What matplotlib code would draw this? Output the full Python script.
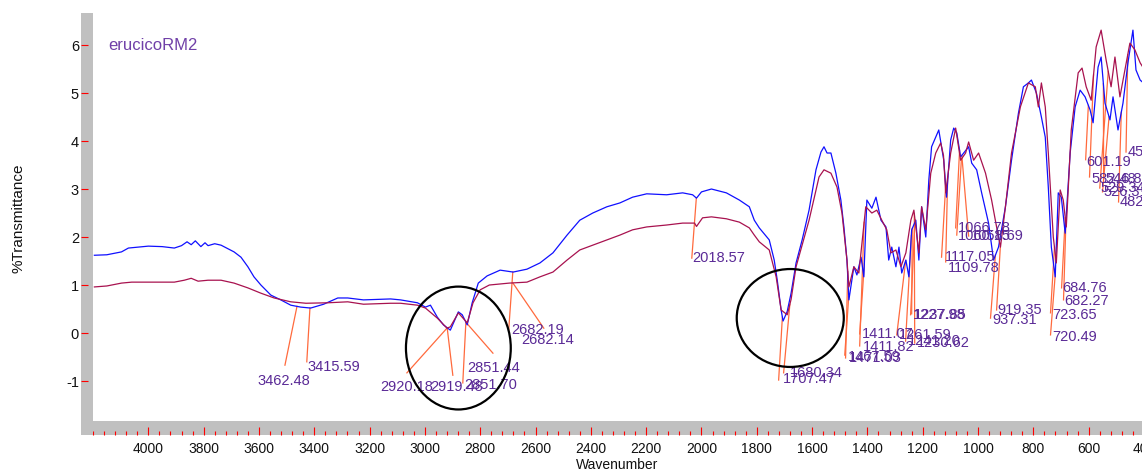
import numpy as np
import matplotlib
matplotlib.use("Agg")
import matplotlib.pyplot as plt
from matplotlib.patches import Ellipse, Rectangle
from matplotlib.ticker import FixedLocator, MultipleLocator

plt.rcParams['font.family'] = ['Liberation Sans', 'DejaVu Sans']
plt.rcParams['axes.unicode_minus'] = False

# ---------------- data ----------------
blue_wn = [4195, 4150, 4097, 4072, 4000, 3950, 3906, 3880, 3860, 3845, 3830, 3810, 3795, 3784,
           3760, 3737, 3690, 3665, 3640, 3618, 3593, 3557, 3521, 3485, 3449, 3413, 3366, 3315,
           3279, 3222, 3124, 3088, 3027, 2998, 2980, 2955, 2933, 2908, 2879, 2865, 2847, 2829,
           2807, 2775, 2728, 2681, 2631, 2584, 2537, 2486, 2440, 2393, 2342, 2295, 2249, 2198,
           2126, 2068, 2032, 2018, 2000, 1964, 1910, 1863, 1827, 1809, 1791, 1755, 1737, 1726,
           1712, 1705, 1690, 1676, 1658, 1636, 1611, 1586, 1568, 1557, 1546, 1532, 1514, 1496,
           1485, 1474, 1467, 1449, 1438, 1423, 1413, 1402, 1384, 1369, 1351, 1333, 1323, 1312,
           1297, 1286, 1276, 1261, 1250, 1240, 1225, 1214, 1204, 1189, 1178, 1168, 1142, 1124,
           1114, 1099, 1088, 1077, 1063, 1052, 1034, 1023, 1005, 987, 962, 944, 926, 901, 879,
           854, 836, 818, 807, 789, 771, 757, 746, 735, 721, 710, 699, 685, 667, 649, 631, 613,
           595, 584, 566, 555, 541, 523, 512, 494, 476, 458, 440, 429, 414, 400]
blue_val = [1.62, 1.63, 1.69, 1.77, 1.81, 1.80, 1.77, 1.82, 1.90, 1.84, 1.92, 1.80, 1.88, 1.82,
            1.86, 1.83, 1.69, 1.58, 1.38, 1.17, 1.00, 0.79, 0.69, 0.58, 0.54, 0.52, 0.60, 0.73,
            0.73, 0.69, 0.71, 0.69, 0.63, 0.54, 0.58, 0.33, 0.17, 0.06, 0.44, 0.38, 0.17, 0.63,
            1.04, 1.19, 1.31, 1.27, 1.33, 1.46, 1.67, 2.04, 2.35, 2.50, 2.63, 2.71, 2.83, 2.90,
            2.88, 2.92, 2.88, 2.81, 2.94, 3.00, 2.92, 2.77, 2.63, 2.35, 2.19, 1.94, 1.52, 1.10,
            0.48, 0.25, 0.45, 0.83, 1.46, 1.94, 2.56, 3.40, 3.77, 3.88, 3.75, 3.75, 3.33, 2.77,
            2.21, 1.52, 0.69, 1.38, 1.21, 1.58, 1.17, 2.77, 2.60, 2.83, 2.35, 2.21, 1.52, 1.79,
            1.38, 1.79, 1.25, 1.52, 1.17, 2.15, 2.35, 1.52, 2.63, 2.00, 3.19, 3.88, 4.23, 3.60,
            2.83, 4.02, 4.27, 4.17, 3.67, 3.75, 3.88, 3.54, 3.40, 2.92, 2.29, 1.52, 1.79, 2.63, 3.60,
            4.58, 5.13, 5.21, 5.27, 5.00, 4.50, 4.08, 3.04, 1.79, 1.17, 2.92, 2.83, 2.08, 3.75, 4.71,
            5.06, 4.92, 4.65, 4.38, 5.54, 5.75, 4.79, 4.44, 4.92, 4.23, 4.79, 5.63, 6.31, 5.48,
            5.27, 5.20]

red_wn = [4195, 4150, 4097, 4060, 3906, 3870, 3845, 3820, 3784, 3737, 3690, 3640, 3593, 3545,
          3485, 3430, 3350, 3279, 3222, 3124, 3088, 3027, 2998, 2955, 2920, 2908, 2879, 2847,
          2826, 2800, 2767, 2695, 2631, 2584, 2537, 2486, 2440, 2393, 2342, 2295, 2249, 2198,
          2126, 2068, 2025, 2018, 1996, 1964, 1910, 1863, 1827, 1809, 1791, 1755, 1730, 1712,
          1690, 1676, 1658, 1611, 1575, 1557, 1532, 1510, 1492, 1474, 1467, 1449, 1431, 1406,
          1384, 1366, 1348, 1330, 1315, 1297, 1279, 1261, 1243, 1232, 1214, 1204, 1189, 1171,
          1153, 1135, 1125, 1117, 1099, 1081, 1063, 1045, 1034, 1016, 998, 973, 951, 933, 919,
          901, 879, 847, 818, 793, 782, 771, 757, 746, 728, 717, 703, 692, 681, 663, 638, 624,
          609, 591, 573, 555, 537, 519, 505, 487, 469, 451, 433, 414, 400]
red_val = [0.96, 0.98, 1.04, 1.06, 1.06, 1.10, 1.14, 1.08, 1.10, 1.10, 1.04, 0.94, 0.83, 0.73,
           0.65, 0.62, 0.63, 0.65, 0.60, 0.62, 0.62, 0.58, 0.52, 0.31, 0.10, 0.13, 0.42, 0.21,
           0.63, 0.90, 1.00, 1.04, 1.06, 1.17, 1.27, 1.52, 1.73, 1.83, 1.94, 2.04, 2.15, 2.21,
           2.25, 2.29, 2.29, 2.22, 2.40, 2.42, 2.38, 2.31, 2.19, 2.04, 1.90, 1.73, 1.17, 0.48,
           0.38, 0.70, 1.38, 2.35, 3.25, 3.40, 3.33, 3.04, 2.50, 1.52, 0.96, 1.38, 1.25, 2.63,
           2.50, 2.56, 2.35, 2.15, 1.67, 1.73, 1.38, 1.67, 2.35, 2.56, 1.67, 2.63, 2.15, 3.33,
           3.75, 3.96, 3.70, 2.92, 3.75, 4.27, 3.60, 3.75, 3.98, 3.60, 3.75, 3.33, 2.77, 2.21, 1.79,
           2.63, 3.75, 4.71, 5.21, 5.13, 4.71, 5.21, 4.71, 3.75, 2.00, 1.46, 2.98, 2.77, 2.21,
           4.23, 5.42, 5.52, 5.13, 4.85, 5.96, 6.31, 5.69, 5.13, 5.75, 4.92, 5.48, 6.04, 5.90,
           5.63, 5.50]

x_ticks = [4000, 3800, 3600, 3400, 3200, 3000, 2800, 2600, 2400, 2200, 2000,
           1800, 1600, 1400, 1200, 1000, 800, 600, 400]
y_ticks = [-1, 0, 1, 2, 3, 4, 5, 6]

title_text = "erucicoRM2"
x_label = "Wavenumber"
y_label = "%Transmittance"

peak_text = ["3462.48", "3415.59", "2920.18", "2919.48", "2851.70", "2851.44", "2682.19",
             "2682.14", "2018.57", "1680.34", "1707.47", "1467.59", "1471.03", "1411.07",
             "1411.82", "1261.59", "1230.62", "1241.20", "1227.98", "1237.85", "1117.05",
             "1109.78", "1066.78", "1060.15", "1058.69", "919.35", "937.31", "684.76",
             "682.27", "723.65", "720.49", "601.19", "582.48", "546.87", "529.34", "526.31",
             "482.14", "458.71"]
peak_curve = [0, 0, 1, 0, 1, 0, 0, 1, 0, 1, 0, 0, 1, 0, 1, 0, 1, 0, 1, 0, 0, 1, 0, 1, 0,
              1, 0, 1, 0, 1, 0, 0, 1, 0, 1, 0, 0, 1]

# ---------------- layout (label anchors, line ends) ----------------
label_pos = [(3604, -1.00), (3423, -0.71), (3163, -1.13), (2982, -1.13), (2856, -1.08),
             (2848, -0.73), (2686, 0.06), (2653, -0.15), (2032, 1.56), (1681, -0.83),
             (1706, -0.96), (1471, -0.50), (1468, -0.52), (1421, -0.02), (1417, -0.29),
             (1287, -0.04), (1222, -0.21), (1255, -0.17), (1237, 0.38), (1233, 0.38),
             (1121, 1.58), (1110, 1.36), (1074, 2.19), (1074, 2.02), (1027, 2.02),
             (929, 0.48), (947, 0.27), (694, 0.94), (687, 0.67), (731, 0.38), (731, -0.08),
             (608, 3.57), (590, 3.21), (539, 3.21), (557, 3.02), (546, 2.94), (488, 2.73),
             (459, 3.77)]
line_end = [(3506, -0.67), (3427, -0.60), (3065, -0.83), (2899, -0.88), (2863, -1.04),
            (2754, -0.42), (2697, 0.06), (2570, 0.10), (2035, 1.56), (1703, -0.83),
            (1721, -0.98), (1482, -0.46), (1479, -0.52), (1428, -0.02), (1428, -0.27),
            (1294, -0.04), (1229, -0.21), (1262, -0.17), (1244, 0.38), (1240, 0.40),
            (1132, 1.58), (1117, 1.48), (1081, 2.19), (1077, 2.04), (1034, 2.02),
            (933, 0.48), (955, 0.31), (698, 0.94), (691, 0.69), (738, 0.42), (738, -0.04),
            (611, 3.61), (597, 3.25), (546, 3.21), (560, 3.02), (550, 2.94), (492, 2.73),
            (465, 3.77)]

W, H = 1142, 472


def px(l, t, r, b):
    return [l / W, 1 - b / H, (r - l) / W, (b - t) / H]


fig = plt.figure(figsize=(W / 100, H / 100), dpi=100)
fig.patch.set_facecolor('white')

ax = fig.add_axes(px(93, 13, 1144, 421))
ax.set_xlim(4200, 400)
ax.set_ylim(-1.833, 6.667)
ax.set_axis_off()

BLUE = '#1010FF'
RED = '#A8124F'
ORANGE = '#FF6A3D'
PURPLE = '#5A2A96'

ax.plot(blue_wn, blue_val, color=BLUE, lw=0.9, zorder=3)
ax.plot(red_wn, red_val, color=RED, lw=0.9, zorder=4)

curves = [(np.array(blue_wn[::-1]), np.array(blue_val[::-1])),
          (np.array(red_wn[::-1]), np.array(red_val[::-1]))]
for txt, ci, (tx, ty), (ex, ey) in zip(peak_text, peak_curve, label_pos, line_end):
    pw = float(txt)
    cw, cv = curves[ci]
    pv = np.interp(pw, cw, cv)
    ax.plot([pw, ex], [pv, ey], color=ORANGE, lw=0.9, zorder=2)
    ax.text(tx, ty, txt, color=PURPLE, fontsize=10.5, ha='left', va='center',
            zorder=5, clip_on=False)

ax.add_patch(Ellipse((2879, -0.313), 379, 2.56, fill=False, ec='black', lw=1.6, zorder=6,
                     clip_on=False))
ax.add_patch(Ellipse((1679, 0.313), 387, 2.04, fill=False, ec='black', lw=1.6, zorder=6,
                     clip_on=False))

# left gray strip with y ticks
GRAY = '#C0C0C0'
axl = fig.add_axes(px(81, 13, 93, 421), sharey=ax)
axl.set_facecolor(GRAY)
for s in axl.spines.values():
    s.set_visible(False)
axl.set_xticks([])
axl.yaxis.set_major_locator(FixedLocator(y_ticks))
axl.tick_params(axis='y', direction='in', length=5, width=0.8, color='red',
                labelsize=10.5, labelcolor='#111111', pad=1.5)

# bottom gray strip with x ticks
axb = fig.add_axes(px(93, 421, 1144, 435), sharex=ax)
axb.set_facecolor(GRAY)
for s in axb.spines.values():
    s.set_visible(False)
axb.set_yticks([])
axb.xaxis.set_major_locator(FixedLocator(x_ticks))
axb.xaxis.set_minor_locator(MultipleLocator(40))
axb.tick_params(axis='x', which='major', direction='in', length=5.8, width=0.8,
                color='red', labelsize=10, labelcolor='#111111', pad=5)
axb.tick_params(axis='x', which='minor', direction='in', length=3.2, width=0.8,
                color='red')

fig.add_artist(Rectangle((81 / W, 1 - 435 / H), 12 / W, 14 / H, transform=fig.transFigure,
                         facecolor=GRAY, edgecolor='none'))

fig.text(18.5 / W, 1 - 218 / H, y_label, rotation=90, ha='center', va='center',
         fontsize=11, color='#111111')
fig.text(617 / W, 1 - 465 / H, x_label, ha='center', va='center', fontsize=10,
         color='#111111')
fig.text(108 / W, 1 - 45 / H, title_text, ha='left', va='center', fontsize=12,
         color='#7040A8')

fig.savefig('out.png', dpi=100)
